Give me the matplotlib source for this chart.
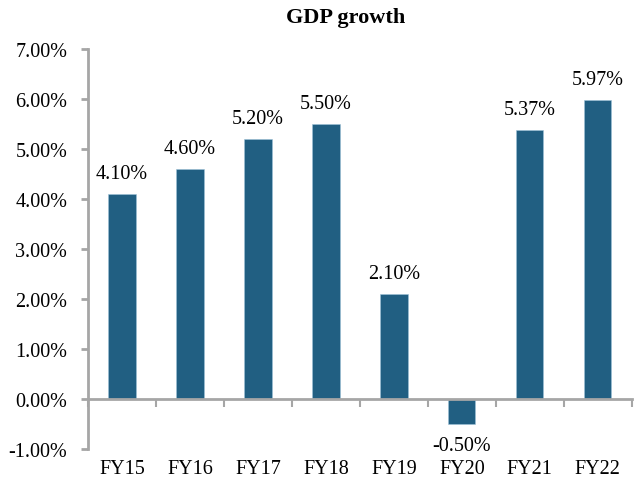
import matplotlib
matplotlib.use("Agg")
import matplotlib.pyplot as plt
import matplotlib.transforms as mtransforms

categories = ["FY15", "FY16", "FY17", "FY18", "FY19", "FY20", "FY21", "FY22"]
values = [4.10, 4.60, 5.20, 5.50, 2.10, -0.50, 5.37, 5.97]
yticks = [-1, 0, 1, 2, 3, 4, 5, 6, 7]
title = "GDP growth"

plt.rcParams['font.family'] = ['Liberation Serif', 'DejaVu Serif']

fig = plt.figure(figsize=(6.35, 4.89), dpi=100)
ax = fig.add_axes([0.1386, 0.0798, 0.8564, 0.818])

fs = 14.5
bar_color = "#215f82"
spine_color = "#a6a6a6"
x = list(range(len(categories)))
ax.bar(x, values, width=0.40, color=bar_color, edgecolor="#9fc3d8", linewidth=0.4, zorder=2)

ax.set_xlim(-0.5, len(categories) - 0.5)
ax.set_ylim(-1, 7)
ax.set_yticks(yticks)
ax.set_yticklabels([f"{v:.2f}%" for v in yticks], fontsize=fs)
ax.tick_params(axis='y', length=5, width=2, color=spine_color, pad=10)

for s in ['top', 'right']:
    ax.spines[s].set_visible(False)
ax.spines['left'].set_color(spine_color)
ax.spines['left'].set_linewidth(2)
ax.spines['bottom'].set_color(spine_color)
ax.spines['bottom'].set_linewidth(2)
ax.spines['bottom'].set_position(('data', 0))

ax.set_xticks([i - 0.5 for i in range(len(categories) + 1)])
ax.set_xticklabels([])
ax.tick_params(axis='x', length=6, width=1.5, color=spine_color, direction='out')

trans = mtransforms.blended_transform_factory(ax.transData, ax.transAxes)
for xi, c in zip(x, categories):
    ax.text(xi, -0.025, c, transform=trans, ha='center', va='top', fontsize=fs)

for xi, v in zip(x, values):
    if v >= 0:
        ax.annotate(f"{v:.2f}%", (xi, v), xytext=(0, 8), textcoords='offset points',
                    ha='center', va='bottom', fontsize=fs)
    else:
        ax.annotate(f"{v:.2f}%", (xi, v), xytext=(0, -9), textcoords='offset points',
                    ha='center', va='top', fontsize=fs)

fig.text(0.545, 0.963, title, fontsize=16, fontweight='bold', ha='center', va='center')

fig.savefig("out.png", dpi=100)
